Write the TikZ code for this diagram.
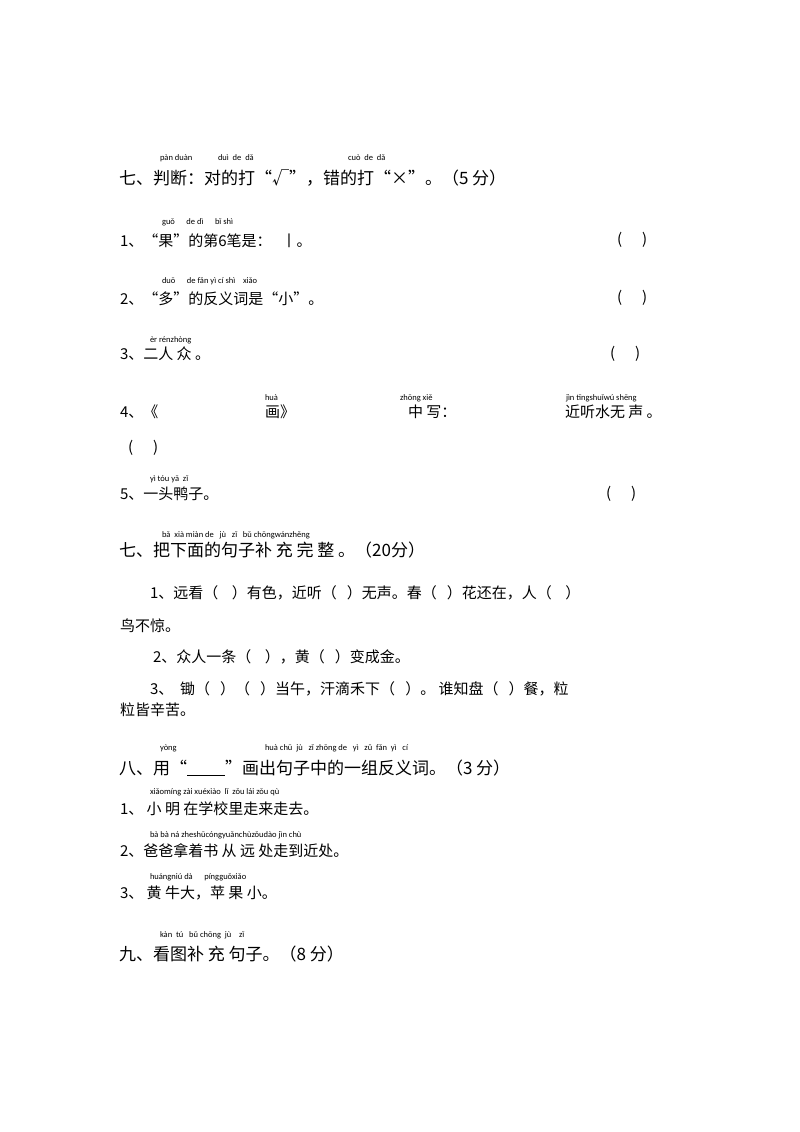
\documentclass[tikz,border=0pt]{standalone}
\usepackage{fontspec}
\setmainfont{Carlito}
\newfontfamily\cjk{Noto Sans CJK SC}
\begin{document}
\begin{tikzpicture}[x=1pt,y=-1pt,
 every node/.style={anchor=base west,inner sep=0pt,outer sep=0pt},
 py/.style={font=\fontsize{8.5}{10}\selectfont},
 tx/.style={font=\cjk\fontsize{15}{18}\selectfont},
 hd/.style={font=\cjk\fontsize{17}{20}\selectfont}]
\useasboundingbox[fill=white] (0,0) rectangle (800,1132);
% section 7
\node[py] (p0a) at (160,160) {pàn duàn};
\node[py] (p0b) at (218,160) {duì\ \ de\ \ dǎ};
\node[py] (p0c) at (348,160) {cuò\ \ de\ \ dǎ};
\node[hd] (h0) at (119,184) {七、判断：对的打“√”，错的打“×”。（5 分）};
\node[py] (p1) at (162,224) {guǒ\ \ \ \ \ \ de\ dì\ \ \ \ \ \ bǐ\ shì};
\node[tx] (t1) at (120,246) {1、“果”的第6笔是：\ \ \ 丨。};
\node[tx] (b1) at (617,244) {(\ \ \ \ \ \ )};
\node[py] (p2) at (162,283) {duō\ \ \ \ \ \ de fǎn yì\ cí shì\ \ \ \ xiǎo};
\node[tx] (t2) at (120,304) {2、“多”的反义词是“小”。};
\node[tx] (b2) at (617,302) {(\ \ \ \ \ \ )};
\node[py] (p3) at (150,342) {èr rénzhòng};
\node[tx] (t3) at (120,359) {3、二人 众 。};
\node[tx] (b3) at (610,358) {(\ \ \ \ \ \ )};
\node[py] (p4a) at (265,400) {huà};
\node[py] (p4b) at (400,400) {zhōng xiě};
\node[py] (p4c) at (566,400) {jìn tīngshuǐwú shēng};
\node[tx] (t4a) at (120,417) {4、《};
\node[tx] (t4b) at (265,417) {画》};
\node[tx] (t4c) at (408,417) {中 写：};
\node[tx] (t4d) at (565,417) {近听水无 声 。};
\node[tx] (b4) at (128,452) {(\ \ \ \ \ \ )};
\node[py] (p5) at (150,481) {yì tóu yā\ \ zǐ};
\node[tx] (t5) at (120,499) {5、一头鸭子。};
\node[tx] (b5) at (606,498) {(\ \ \ \ \ \ )};
% section 7b
\node[py] (p6) at (162,537) {bǎ\ \ xià miàn de\ \ \ jù\ \ \ zǐ\ \ \ bǔ chōngwánzhěng};
\node[hd] (h6) at (119,556) {七、把下面的句子补 充 完 整 。（20分）};
\node[tx] (s1) at (150,598) {1、远看（\ \ \ \ ）有色，近听（\ \ \ ）无声。春（\ \ \ ）花还在，人（\ \ \ \ ）};
\node[tx] (s1b) at (120,631) {鸟不惊。};
\node[tx] (s2) at (153,662) {2、众人一条（\ \ \ \ ），黄（\ \ \ ）变成金。};
\node[tx] (s3) at (150,694) {3、\ \ 锄（\ \ \ ）（\ \ \ ）当午，汗滴禾下（\ \ \ ）。\ 谁知盘（\ \ \ ）餐，粒};
\node[tx] (s3b) at (120,715) {粒皆辛苦。};
% section 8
\node[py] (p8a) at (160,750) {yòng};
\node[py] (p8b) at (265,750) {huà chū\ \ jù\ \ \ zǐ zhōng de\ \ \ yì\ \ \ zǔ\ \ fǎn\ \ yì\ \ \ cí};
\node[hd] (h8) at (119,774) {八、用“\underline{\hspace{38pt}}”画出句子中的一组反义词。（3 分）};
\node[py] (p81) at (150,794) {xiǎomíng zài xuéxiào\ \ lǐ\ \ zǒu lái zǒu qù};
\node[tx] (t81) at (120,814) {1、 小 明 在学校里走来走去。};
\node[py] (p82) at (150,837) {bà bà ná zheshūcóngyuǎnchùzǒudào jìn chù};
\node[tx] (t82) at (120,856) {2、爸爸拿着书 从 远 处走到近处。};
\node[py] (p83) at (150,879) {huángniú dà\ \ \ \ \ \ píngguǒxiǎo};
\node[tx] (t83) at (120,898) {3、 黄 牛大，苹 果 小。};
% section 9
\node[py] (p9) at (160,937) {kàn\ \ tú\ \ \ bǔ chōng\ \ jù\ \ \ \ zǐ};
\node[hd] (h9) at (119,960) {九、看图补 充 句子。（8 分）};
\end{tikzpicture}
\end{document}
